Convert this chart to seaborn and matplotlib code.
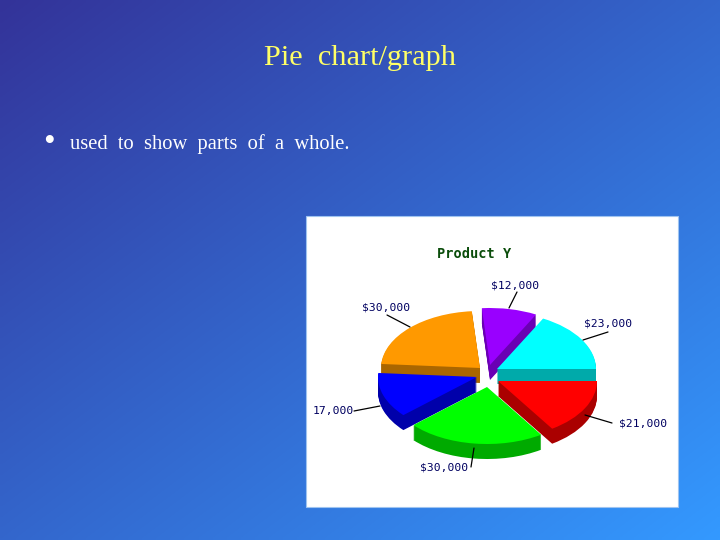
import numpy as np
import matplotlib
matplotlib.use("Agg")
import matplotlib.pyplot as plt
import seaborn as sns
from matplotlib.patches import Wedge, Rectangle
from matplotlib.transforms import Affine2D

# data
slices = ["cyan", "purple", "orange", "blue", "green", "red"]
values = [23000, 12000, 30000, 17000, 30000, 21000]
value_labels = ["$23,000", "$12,000", "$30,000", "17,000", "$30,000", "$21,000"]
top_colors = ["#00FFFF", "#9900FF", "#FF9900", "#0000FF", "#00FF00", "#FF0000"]
side_colors = ["#00AAAA", "#6A00B4", "#AA6600", "#0000AA", "#00AA00", "#AA0000"]

# layout (pixels of the 720x540 slide)
centers = [(497, 369), (490, 365), (480, 368), (477, 377), (487, 387), (498, 381)]
RX, RY, DEPTH = 99, 57, 15
draw_order = [1, 2, 0, 3, 5, 4]
label_pos = [(608, 323), (515, 285), (386, 308), (333, 411), (444, 467), (643, 423)]
leaders = [((608, 332), (583, 340)), ((517, 292), (509, 308)), ((387, 315), (410, 327)),
           ((354, 411), (380, 406)), ((471, 467), (474, 448)), ((612, 423), (585, 415))]

sns.set_style("white")
plt.rcParams["font.family"] = ["Liberation Serif", "DejaVu Sans"]
palette = sns.color_palette(top_colors)

fig = plt.figure(figsize=(7.2, 5.4), dpi=100)
ax = fig.add_axes([0, 0, 1, 1])

wedges, _ = ax.pie(values, colors=palette, startangle=0, counterclock=True,
                   wedgeprops={"linewidth": 0})
ax.set_aspect("auto")
ax.axis("off")

# slide background gradient
gy, gx = np.mgrid[0:1:135j, 0:1:180j]
t = (gx + gy) / 2
c0, c1 = np.array([51, 51, 153]) / 255, np.array([51, 153, 255]) / 255
grad = c0[None, None, :] + t[..., None] * (c1 - c0)[None, None, :]
ax.imshow(grad, extent=(0, 720, 540, 0), aspect="auto", zorder=0, interpolation="bilinear")
ax.set_xlim(0, 720)
ax.set_ylim(540, 0)

ax.add_patch(Rectangle((306, 216), 372, 291, facecolor="white", edgecolor="#9fc4f0",
                       linewidth=0.8, zorder=1))

z = 2
for i in draw_order:
    w = wedges[i]
    cx, cy = centers[i]
    for d in range(DEPTH, 0, -1):
        s = Wedge((0, 0), 1, w.theta1, w.theta2, facecolor=side_colors[i], linewidth=0,
                  zorder=z, transform=Affine2D().scale(RX, -RY).translate(cx, cy + d) + ax.transData)
        ax.add_patch(s)
    w.set_transform(Affine2D().scale(RX, -RY).translate(cx, cy) + ax.transData)
    w.set_zorder(z + 1)
    w.set_clip_on(False)
    z += 2

for (p, q), (lx, ly), lab in zip(leaders, label_pos, value_labels):
    ax.plot([p[0], q[0]], [p[1], q[1]], color="black", lw=0.9, zorder=30)
    ax.text(lx, ly, lab, ha="center", va="center", fontsize=8.2, color="#000060",
            family="DejaVu Sans Mono", zorder=31)

ax.text(474, 254, "Product Y", ha="center", va="center", fontsize=9.8, fontweight="bold",
        color="#0B4D0B", family="DejaVu Sans Mono", zorder=31)
ax.text(360, 58, "Pie  chart/graph", ha="center", va="center", fontsize=21.8,
        color="#FFFF66", zorder=31)
ax.text(49, 143, "•", ha="center", va="center", fontsize=24, color="white", zorder=31)
ax.text(70, 144, "used  to  show  parts  of  a  whole.", ha="left", va="center",
        fontsize=14.8, color="white", zorder=31)

fig.savefig("out.png", dpi=100)
